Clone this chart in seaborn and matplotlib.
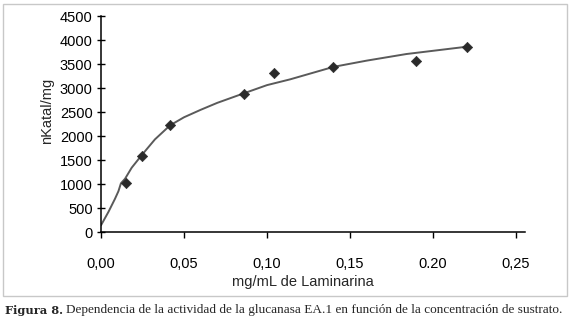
import matplotlib
matplotlib.use("Agg")
import matplotlib.pyplot as plt
import seaborn as sns
import pandas as pd
from matplotlib.patches import Rectangle

# measured activity points
conc = [0.015, 0.0245, 0.0416, 0.0863, 0.1044, 0.140, 0.190, 0.2203]
activity = [1027, 1590, 2222, 2880, 3320, 3440, 3565, 3850]

# fitted trend line
curve_x = [0.0, 0.0045, 0.0084, 0.0105, 0.012, 0.0145, 0.0185, 0.0245, 0.0325,
           0.0416, 0.050, 0.060, 0.070, 0.0857, 0.100, 0.1139, 0.140, 0.160,
           0.184, 0.200, 0.2203]
curve_y = [140, 420, 690, 850, 1014, 1110, 1340, 1600, 1930,
           2222, 2390, 2545, 2690, 2885, 3060, 3180, 3440, 3570,
           3708, 3775, 3860]

x_ticks = [0.0, 0.05, 0.10, 0.15, 0.20, 0.25]
x_tick_labels = ["0,00", "0,05", "0,10", "0,15", "0.20", "0,25"]
y_ticks = list(range(0, 4501, 500))

pts = pd.DataFrame({"conc": conc, "activity": activity})
fit = pd.DataFrame({"x": curve_x, "y": curve_y})

sns.set_style("white")
plt.rcParams["font.family"] = ["Liberation Sans", "DejaVu Sans"]

W, H = 571, 318
fig = plt.figure(figsize=(W / 100, H / 100), dpi=100)
ax = fig.add_axes([101 / W, 1 - 232 / H, 424 / W, 216 / H])

sns.lineplot(data=fit, x="x", y="y", ax=ax, sort=False, estimator=None,
             color="#5a5a5a", linewidth=1.4)
sns.scatterplot(data=pts, x="conc", y="activity", ax=ax, marker="D", s=28,
                color="#2a2a2a", edgecolor="#2a2a2a", zorder=3)

ax.set_xlim(0, 0.2554)
ax.set_ylim(0, 4500)
ax.set_xticks(x_ticks)
ax.set_xticklabels(x_tick_labels)
ax.set_yticks(y_ticks)
for s in ["top", "right"]:
    ax.spines[s].set_visible(False)
for s in ["left", "bottom"]:
    ax.spines[s].set_color("black")
    ax.spines[s].set_linewidth(1.1)
ax.tick_params(axis="x", direction="out", length=4, width=1, pad=14,
               labelsize=10.5, colors="black")
ax.tick_params(axis="y", direction="inout", length=6, width=1, pad=3,
               labelsize=10.5, colors="black")
ax.tick_params(bottom=True, left=True)

ax.set_xlabel("mg/mL de Laminarina", fontsize=10.5)
ax.set_ylabel("nKatal/mg", fontsize=10.5)
ax.xaxis.set_label_coords(0.476, -0.2)
ax.yaxis.set_label_coords(-0.11, 0.56)

# light frame around the chart area
fig.patches.append(Rectangle((3 / W, 1 - 296 / H), 564 / W, 292 / H,
                             transform=fig.transFigure, fill=False,
                             edgecolor="#c8c8c8", linewidth=1))

fig.text(5 / W, 1 - 310 / H, "Figura 8.", fontsize=8.2, fontweight="bold",
         family="DejaVu Serif", va="center")
fig.text(66 / W, 1 - 310 / H,
         "Dependencia de la actividad de la glucanasa EA.1 en función de la concentración de sustrato.",
         fontsize=9.55, family="Liberation Serif", va="center")

fig.savefig("out.png", dpi=100)
